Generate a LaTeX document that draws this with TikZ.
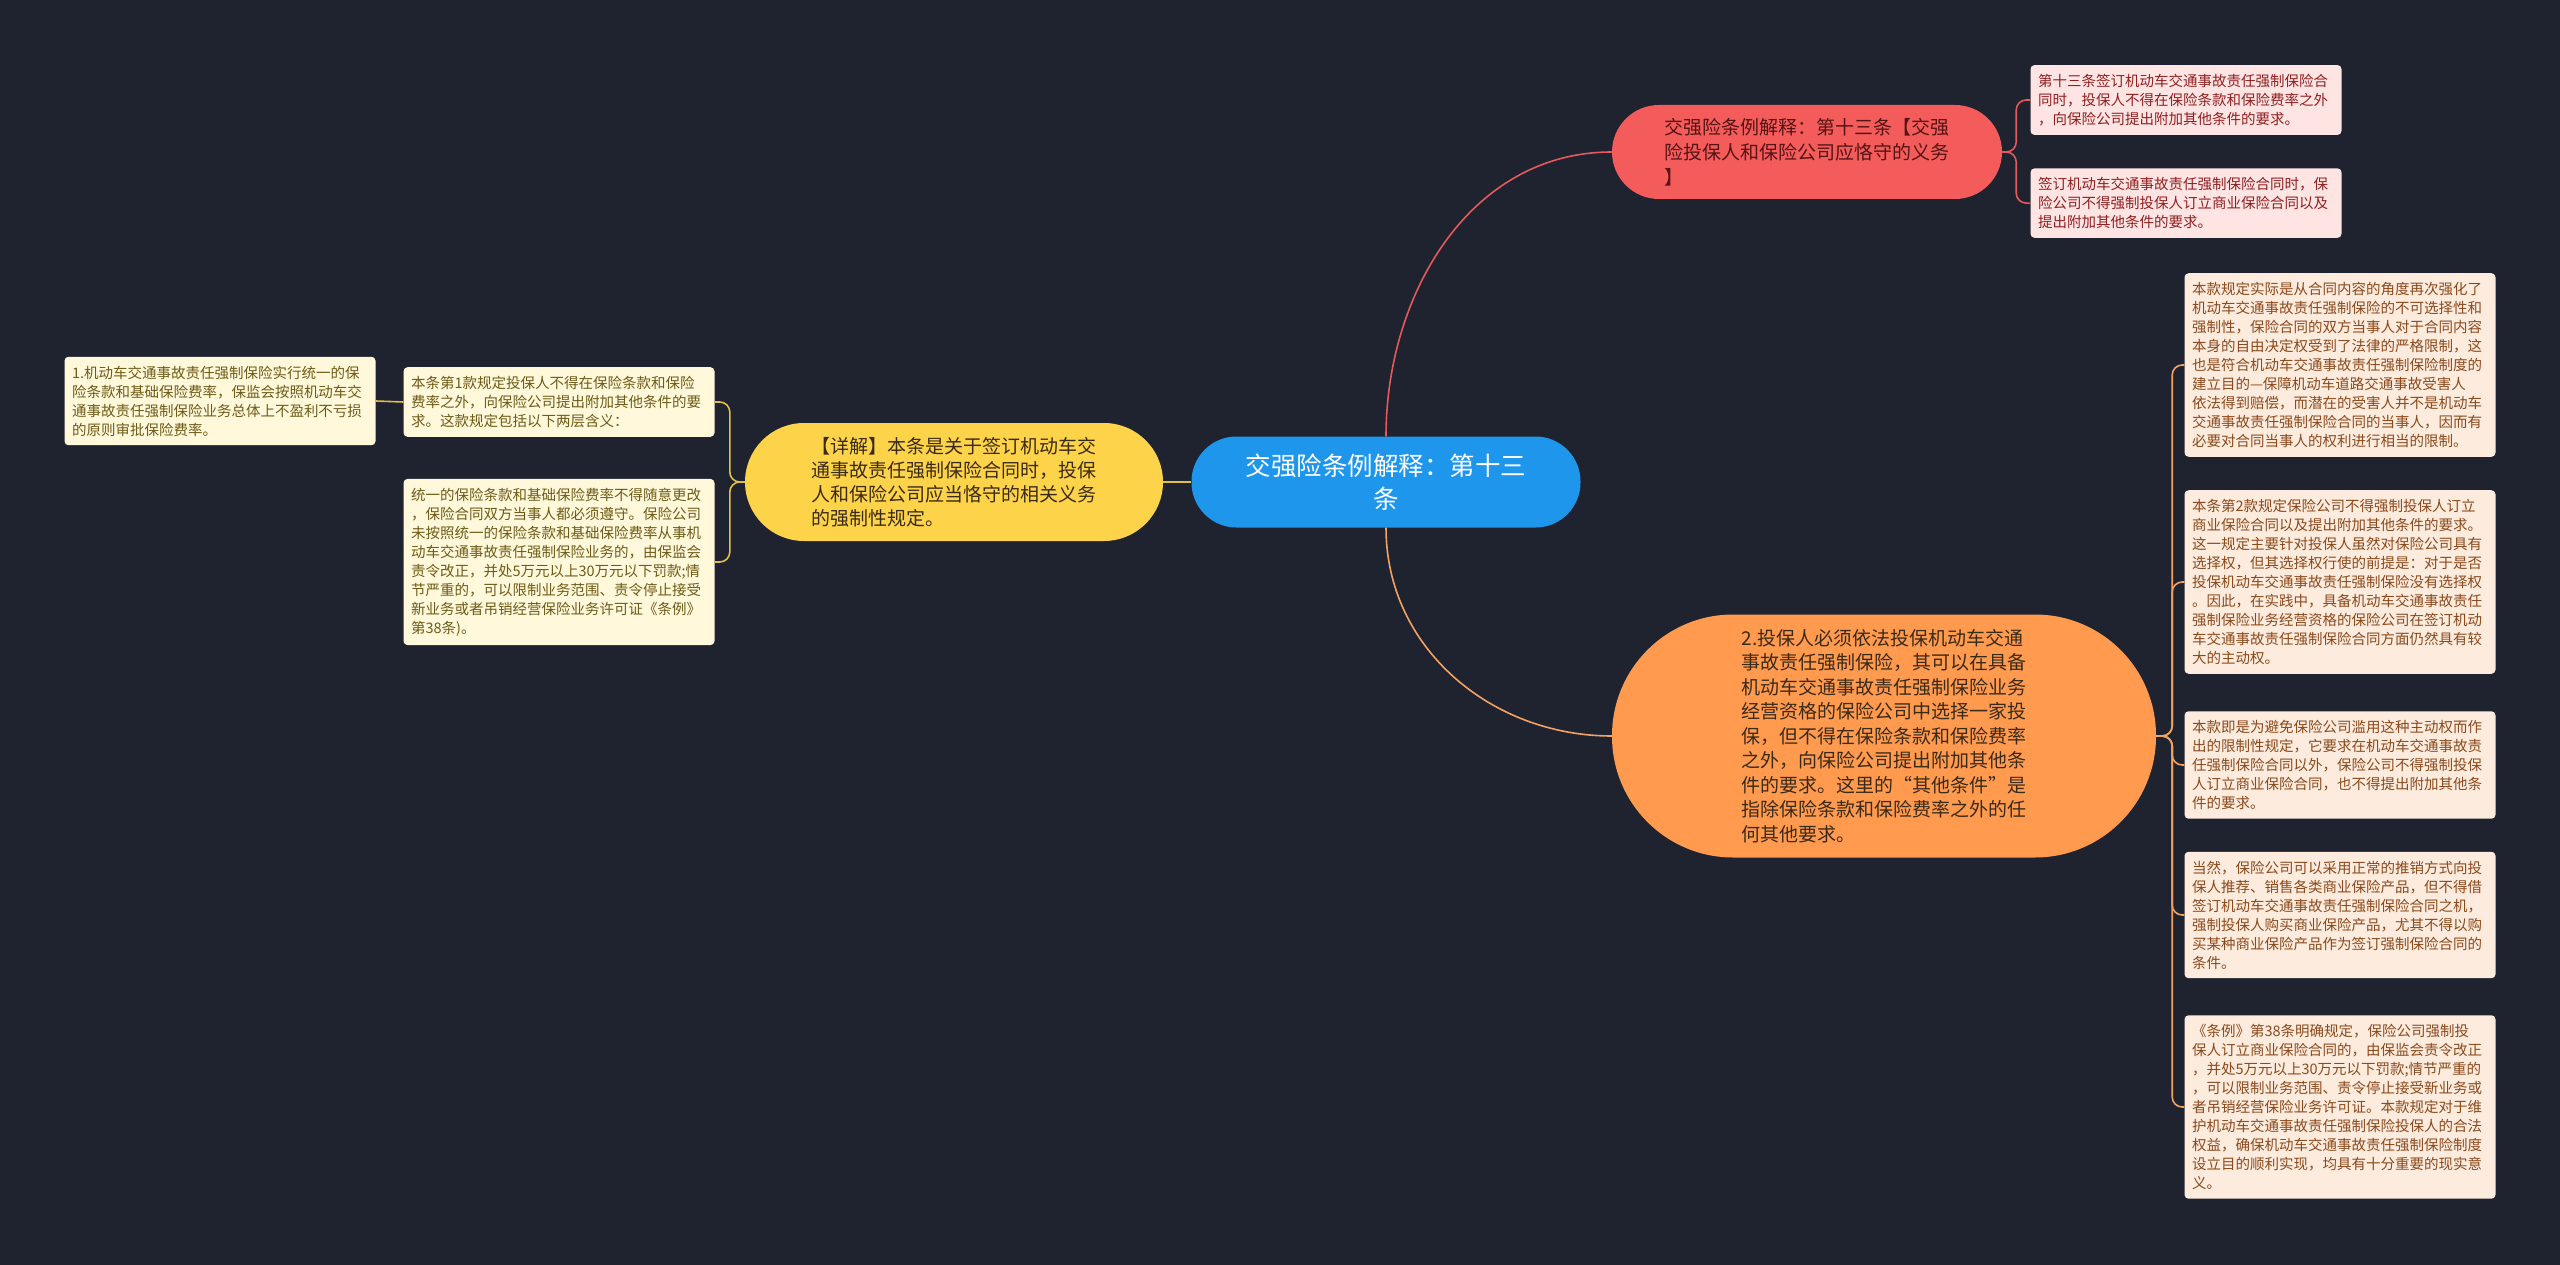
\documentclass[tikz,border=0pt]{standalone}
\usepackage{fontspec}
\setmainfont{Noto Sans CJK SC}
\usepackage{xcolor}
\usepackage{tikz}
\usetikzlibrary{positioning}
\definecolor{bgnavy}{HTML}{1F2330}
\definecolor{rootblue}{HTML}{1E96EC}
\definecolor{branchred}{HTML}{F45C5C}
\definecolor{branchyellow}{HTML}{FDD349}
\definecolor{branchorange}{HTML}{FF9A4F}
\definecolor{linkred}{HTML}{E25A5A}
\definecolor{linkyellow}{HTML}{E2BE45}
\definecolor{linkorange}{HTML}{F2A263}
\definecolor{leafpink}{HTML}{FFE4E4}
\definecolor{leafcream}{HTML}{FFF8DA}
\definecolor{leafpeach}{HTML}{FDEBDE}
\definecolor{textpink}{HTML}{8E2020}
\definecolor{textolive}{HTML}{6E5B18}
\definecolor{textbrown}{HTML}{8A4A1C}
\definecolor{textdark}{HTML}{3A2A18}
\tikzset{
  rootnode/.style={fill=rootblue,text=white,rounded corners=45pt,minimum width=389pt,minimum height=91pt,align=center,font=\fontsize{25.5}{33}\selectfont},
  rednode/.style={fill=branchred,text=textpink!60!black,rounded corners=47pt,minimum width=390pt,minimum height=94pt,align=left,font=\fontsize{19}{25}\selectfont},
  yellownode/.style={fill=branchyellow,text=textdark,rounded corners=59pt,minimum width=418pt,minimum height=118pt,align=left,font=\fontsize{19}{24}\selectfont},
  orangenode/.style={fill=branchorange,text=textdark,rounded corners=121pt,minimum width=544pt,minimum height=243pt,align=left,font=\fontsize{19}{24.5}\selectfont},
  leafbox/.style={rounded corners=4pt,text width=296pt,inner xsep=7.5pt,inner ysep=9pt,align=left,font=\fontsize{14.5}{19}\selectfont},
  pinkleaf/.style={leafbox,fill=leafpink,text=textpink},
  creamleaf/.style={leafbox,fill=leafcream,text=textolive},
  peachleaf/.style={leafbox,fill=leafpeach,text=textbrown},
  redlink/.style={linkred,line width=1.6pt,rounded corners=10pt},
  yellowlink/.style={linkyellow,line width=1.6pt,rounded corners=10pt},
  orangelink/.style={linkorange,line width=1.6pt,rounded corners=10pt}
}

\begin{document}
\begin{tikzpicture}[x=1pt,y=1pt]
  \fill[bgnavy] (0,0) rectangle (2560,-1265);
  % centre and branches
  \node[rootnode] (root) at (1386,-482) {交强险条例解释：第十三\\条};
  \node[rednode] (art13) at (1807,-152) {交强险条例解释：第十三条【交强\\险投保人和保险公司应恪守的义务\\】};
  \node[yellownode] (detail) at (954,-482) {【详解】本条是关于签订机动车交\\通事故责任强制保险合同时，投保\\人和保险公司应当恪守的相关义务\\的强制性规定。};
  \node[orangenode] (duty) at (1884,-736) {2.投保人必须依法投保机动车交通\\事故责任强制保险，其可以在具备\\机动车交通事故责任强制保险业务\\经营资格的保险公司中选择一家投\\保，但不得在保险条款和保险费率\\之外，向保险公司提出附加其他条\\件的要求。这里的“其他条件”是\\指除保险条款和保险费率之外的任\\何其他要求。};
  % red leaves
  \node[pinkleaf] (art13a) at (2186,-100) {第十三条签订机动车交通事故责任强制保险合\\同时，投保人不得在保险条款和保险费率之外\\，向保险公司提出附加其他条件的要求。};
  \node[pinkleaf,below=33pt of art13a] (art13b) {签订机动车交通事故责任强制保险合同时，保\\险公司不得强制投保人订立商业保险合同以及\\提出附加其他条件的要求。};
  % yellow leaves
  \node[creamleaf] (clause1) at (559,-402) {本条第1款规定投保人不得在保险条款和保险\\费率之外，向保险公司提出附加其他条件的要\\求。这款规定包括以下两层含义：};
  \node[creamleaf] (unified) at (559,-562) {统一的保险条款和基础保险费率不得随意更改\\，保险合同双方当事人都必须遵守。保险公司\\未按照统一的保险条款和基础保险费率从事机\\动车交通事故责任强制保险业务的，由保监会\\责令改正，并处5万元以上30万元以下罚款;情\\节严重的，可以限制业务范围、责令停止接受\\新业务或者吊销经营保险业务许可证《条例》\\第38条)。};
  \node[creamleaf] (rate) at (220,-401) {1.机动车交通事故责任强制保险实行统一的保\\险条款和基础保险费率，保监会按照机动车交\\通事故责任强制保险业务总体上不盈利不亏损\\的原则审批保险费率。};
  % orange leaves
  \node[peachleaf] (contentA) at (2340,-365) {本款规定实际是从合同内容的角度再次强化了\\机动车交通事故责任强制保险的不可选择性和\\强制性，保险合同的双方当事人对于合同内容\\本身的自由决定权受到了法律的严格限制，这\\也是符合机动车交通事故责任强制保险制度的\\建立目的—保障机动车道路交通事故受害人\\依法得到赔偿，而潜在的受害人并不是机动车\\交通事故责任强制保险合同的当事人，因而有\\必要对合同当事人的权利进行相当的限制。};
  \node[peachleaf] (contentB) at (2340,-582) {本条第2款规定保险公司不得强制投保人订立\\商业保险合同以及提出附加其他条件的要求。\\这一规定主要针对投保人虽然对保险公司具有\\选择权，但其选择权行使的前提是：对于是否\\投保机动车交通事故责任强制保险没有选择权\\。因此，在实践中，具备机动车交通事故责任\\强制保险业务经营资格的保险公司在签订机动\\车交通事故责任强制保险合同方面仍然具有较\\大的主动权。};
  \node[peachleaf] (contentC) at (2340,-765) {本款即是为避免保险公司滥用这种主动权而作\\出的限制性规定，它要求在机动车交通事故责\\任强制保险合同以外，保险公司不得强制投保\\人订立商业保险合同，也不得提出附加其他条\\件的要求。};
  \node[peachleaf] (contentD) at (2340,-915) {当然，保险公司可以采用正常的推销方式向投\\保人推荐、销售各类商业保险产品，但不得借\\签订机动车交通事故责任强制保险合同之机，\\强制投保人购买商业保险产品，尤其不得以购\\买某种商业保险产品作为签订强制保险合同的\\条件。};
  \node[peachleaf] (contentE) at (2340,-1107) {《条例》第38条明确规定，保险公司强制投\\保人订立商业保险合同的，由保监会责令改正\\，并处5万元以上30万元以下罚款;情节严重的\\，可以限制业务范围、责令停止接受新业务或\\者吊销经营保险业务许可证。本款规定对于维\\护机动车交通事故责任强制保险投保人的合法\\权益，确保机动车交通事故责任强制保险制度\\设立目的顺利实现，均具有十分重要的现实意\\义。};
  % connectors
  \draw[redlink] (root.north) to[out=90,in=180] (art13.west);
  \draw[orangelink] (root.south) to[out=-90,in=180] (duty.west);
  \draw[yellowlink] (root.west) -- (detail.east);
  \foreach \leaf in {art13a,art13b}
    \draw[redlink] (art13.east) -- ++(14,0) |- (\leaf.west);
  \foreach \leaf in {clause1,unified}
    \draw[yellowlink] (detail.west) -- ++(-15,0) |- (\leaf.east);
  \draw[yellowlink] (clause1.west) -- (rate.east);
  \foreach \leaf in {contentA,contentB,contentC,contentD,contentE}
    \draw[orangelink] (duty.east) -- ++(16,0) |- (\leaf.west);
\end{tikzpicture}
\end{document}
